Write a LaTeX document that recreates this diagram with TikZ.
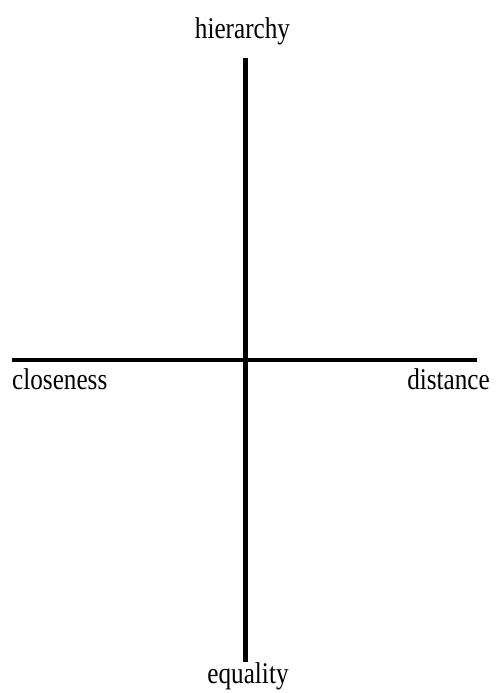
\documentclass[tikz,border=0pt]{standalone}
\usepackage{fontspec}
\setmainfont{Liberation Serif}
\usepackage{tikz}
\usetikzlibrary{positioning}

\tikzset{
  axis/.style={line width=4.5pt},
  pole/.style={inner sep=0pt, xscale=0.84, font=\fontsize{30}{30}\selectfont}
}

\begin{document}
\begin{tikzpicture}[x=1pt,y=-1pt]
\useasboundingbox (0,0) rectangle (495,693);
\coordinate (top) at (245.5,58);
\coordinate (bottom) at (245.5,662);
\coordinate (left) at (12,360);
\coordinate (right) at (477,360);
\draw[axis] (top) -- (bottom);
\draw[axis] (left) -- (right);
\node[pole,anchor=base] (hier) at (242.5,39) {hierarchy};
\node[pole,anchor=base] (equal) at (248,683) {equality};
\node[pole,anchor=base west] (close) at (12,389) {closeness};
\node[pole,anchor=base east] (dist) at (490,389) {distance};
\end{tikzpicture}
\end{document}
